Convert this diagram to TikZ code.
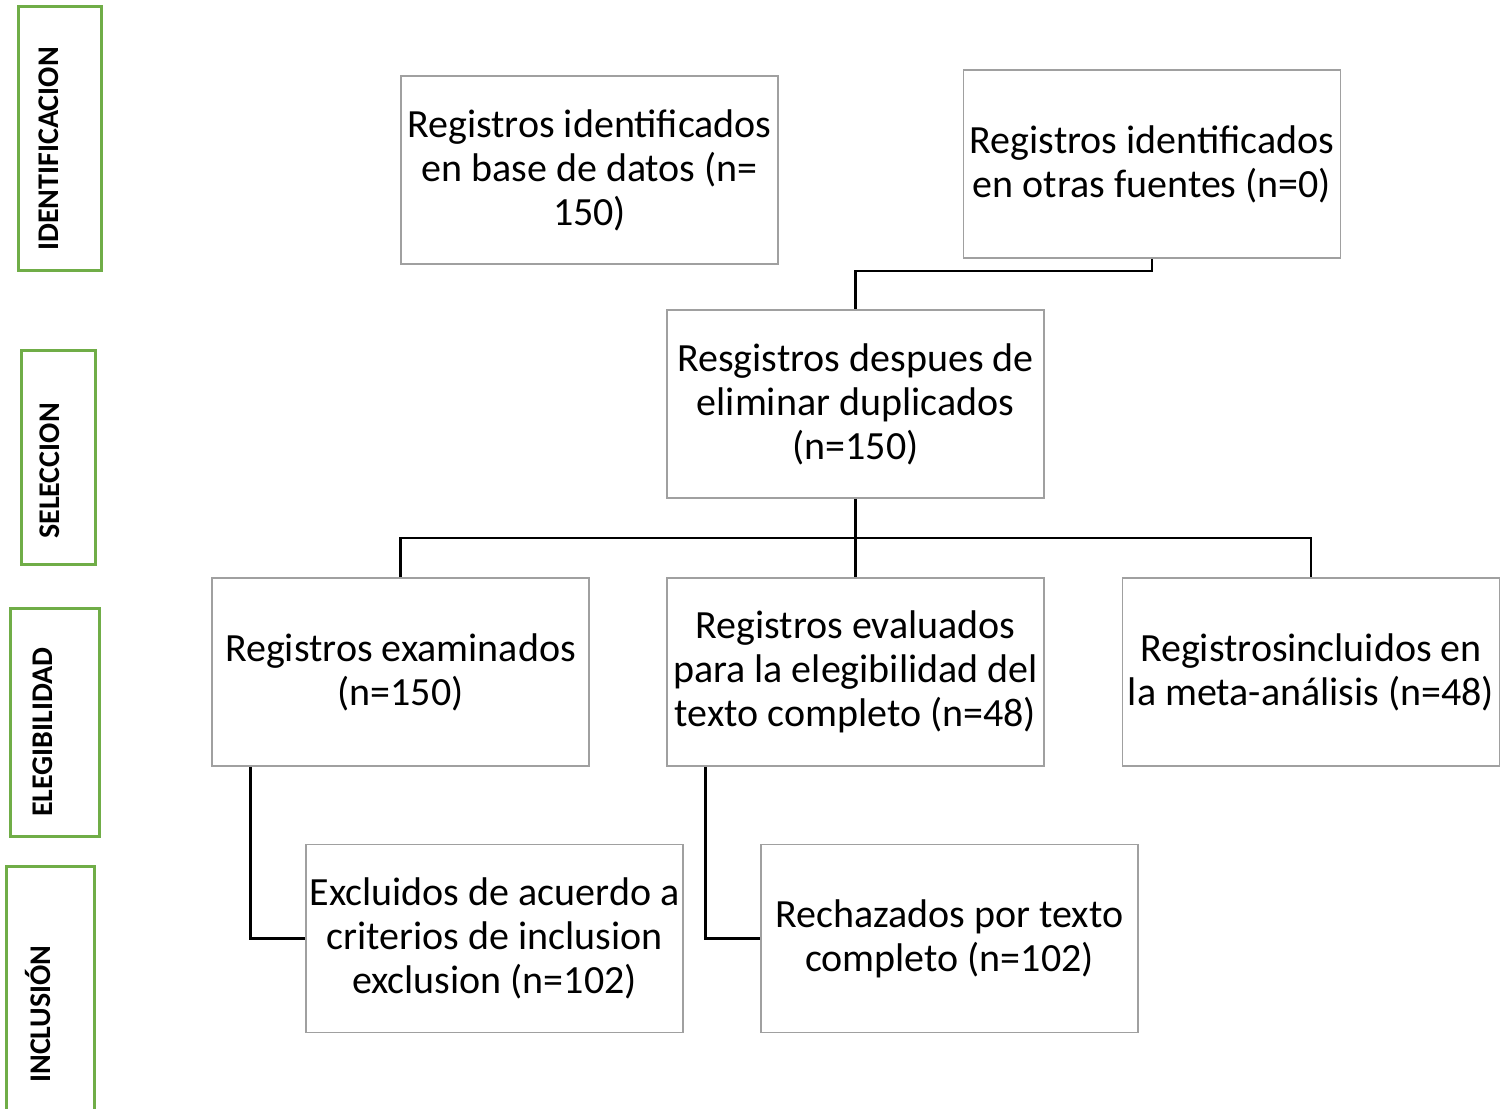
\documentclass[tikz,border=0pt]{standalone}
\usepackage{fontspec}
\setmainfont{Carlito}
\definecolor{boxgray}{HTML}{A0A0A0}
\definecolor{phasegreen}{HTML}{70AD47}
\begin{document}
\begin{tikzpicture}[x=1pt,y=-1pt,
  flowbox/.style={draw=boxgray,line width=1.5pt,minimum width=377pt,minimum height=188pt,
    align=center,inner sep=1pt,font=\fontsize{40}{44}\selectfont},
  phasebox/.style={draw=phasegreen,line width=3pt,inner sep=0pt},
  phasetext/.style={rotate=90,font=\fontsize{30}{34}\selectfont\bfseries,inner sep=0pt},
  link/.style={draw=black,line width=2.2pt}]
\useasboundingbox (0,0) rectangle (1503,1108);
% phase labels
\node[phasebox,minimum width=83pt,minimum height=263pt] (p1) at (59.5,138.5) {};
\node[phasetext] (t1) at (49,149) {IDENTIFICACION};
\node[phasebox,minimum width=74pt,minimum height=214pt] (p2) at (58,457) {};
\node[phasetext] (t2) at (50,471) {SELECCION};
\node[phasebox,minimum width=89pt,minimum height=228pt] (p3) at (54.5,722) {};
\node[phasetext] (t3) at (43,732) {ELEGIBILIDAD};
\node[phasebox,minimum width=88pt,minimum height=250pt] (p4) at (50,991) {};
\node[phasetext] (t4) at (38,1014) {INCLUSIÓN};
% flow boxes
\node[flowbox] (a) at (589.5,170) {Registros identificados\\en base de datos (n=\\150)};
\node[flowbox] (b) at (1152,164) {Registros identificados\\en otras fuentes (n=0)};
\node[flowbox] (c) at (855.5,404) {Resgistros despues de\\eliminar duplicados\\(n=150)};
\node[flowbox] (d) at (400.5,672) {Registros examinados\\(n=150)};
\node[flowbox] (e) at (855.5,672) {Registros evaluados\\para la elegibilidad del\\texto completo (n=48)};
\node[flowbox] (f) at (1311,672) {Registrosincluidos en\\la meta-análisis (n=48)};
\node[flowbox] (g) at (494.5,938.5) {Excluidos de acuerdo a\\criterios de inclusion\\exclusion (n=102)};
\node[flowbox] (h) at (949.5,938.5) {Rechazados por texto\\completo (n=102)};
% connectors
\coordinate (j1) at (855,538);
\draw[link] (b.south) -- ++(0,12) -| (c.north);
\draw[link] (c.south) -- (e.north);
\draw[link] (d.north) |- (j1) -| (f.north);
\draw[link] ([xshift=-150pt]d.south) |- (g.west);
\draw[link] ([xshift=-150pt]e.south) |- (h.west);
\end{tikzpicture}
\end{document}
